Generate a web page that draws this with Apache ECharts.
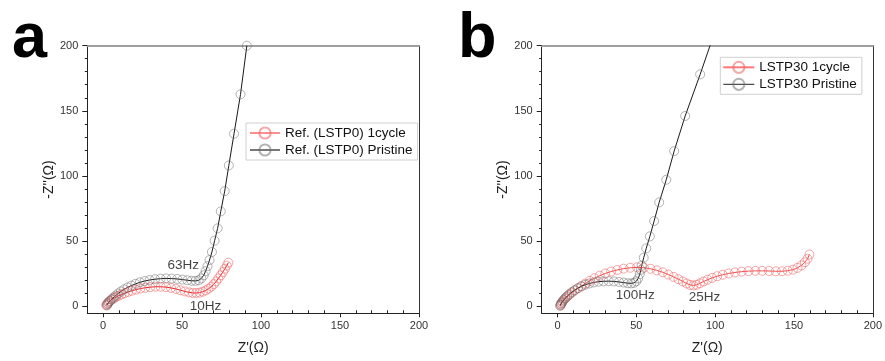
<!DOCTYPE html>
<html><head><meta charset="utf-8">
<script src="https://cdn.jsdelivr.net/npm/echarts@6/dist/echarts.min.js"></script>
<style>html,body{margin:0;padding:0;background:#fff}#c{width:885px;height:361px}</style>
</head><body><div id="c"></div>
<script>
// ---- data ----
const xTicks = [0, 50, 100, 150, 200];
const yTicks = [0, 50, 100, 150, 200];
const minorTicks = [10, 20, 30, 40, 60, 70, 80, 90, 110, 120, 130, 140, 160, 170, 180, 190];

const aNames = ['Ref. (LSTP0) 1cycle', 'Ref. (LSTP0) Pristine'];
const bNames = ['LSTP30 1cycle', 'LSTP30 Pristine'];

const aOneCycle = [[2.0,0.5],[2.3,1.3],[2.8,2.2],[3.5,3.1],[4.4,4.0],[5.5,4.9],[6.8,5.9],[8.2,6.9],[9.8,7.9],[11.6,8.8],[13.6,9.8],[15.8,10.8],[18.2,11.7],[20.8,12.6],[23.6,13.4],[26.6,14.0],[29.8,14.5],[33.1,14.8],[36.5,14.8],[39.8,14.5],[43.0,13.9],[46.1,13.1],[49.0,12.1],[51.8,11.2],[54.4,10.5],[56.8,10.1],[59.0,10.0],[61.1,10.3],[63.1,11.0],[65.0,12.0],[66.8,13.3],[68.5,14.9],[70.1,16.8],[71.6,18.9],[73.0,21.2],[74.4,23.6],[75.8,26.1],[77.1,28.6],[78.3,31.0],[79.3,33.3]];
const aPristine = [[2.5,0.5],[2.9,1.5],[3.5,2.6],[4.3,3.8],[5.3,5.1],[6.5,6.5],[7.9,8.0],[9.5,9.6],[11.3,11.2],[13.3,12.8],[15.5,14.3],[17.9,15.7],[20.5,17.0],[23.3,18.2],[26.3,19.2],[29.5,20.0],[32.9,20.6],[36.4,21.0],[39.9,21.2],[43.4,21.1],[46.9,20.8],[50.2,20.3],[53.3,19.8],[56.1,19.4],[58.5,19.3],[60.5,19.8],[62.2,21.2],[63.7,23.6],[64.9,26.8],[66.1,30.6],[67.4,35.3],[68.9,41.5],[70.6,50.2],[72.5,59.7],[74.5,72.7],[77.0,88.3],[79.6,108.0],[82.9,132.4],[87.0,162.6],[91.0,200.0]];
const bOneCycle = [[1.8,0.2],[2.0,1.0],[2.4,2.0],[3.0,3.1],[3.8,4.3],[4.8,5.6],[6.0,7.0],[7.4,8.5],[9.0,10.1],[10.8,11.8],[12.8,13.5],[15.0,15.2],[17.6,17.2],[20.4,19.3],[23.5,21.4],[26.8,23.3],[30.3,25.0],[34.0,26.5],[37.9,27.7],[42.0,28.7],[46.2,29.4],[50.5,29.7],[54.8,29.4],[59.0,28.6],[63.0,27.4],[66.8,25.9],[70.3,24.2],[73.6,22.4],[76.7,20.6],[79.5,18.9],[82.0,17.3],[84.2,16.2],[86.2,15.8],[88.2,16.3],[90.3,17.4],[92.6,18.8],[95.2,20.2],[98.1,21.6],[101.3,22.9],[104.8,24.0],[108.6,25.0],[112.6,25.8],[116.8,26.4],[121.1,26.8],[125.5,27.0],[129.9,27.0],[134.2,26.9],[138.4,26.7],[142.4,26.7],[146.0,27.1],[149.3,27.9],[152.2,29.3],[154.7,31.2],[156.9,33.6],[158.6,36.3],[159.8,39.6]];
const bPristine = [[1.8,0.3],[2.1,1.2],[2.6,2.3],[3.2,3.5],[4.0,4.8],[5.0,6.2],[6.2,7.7],[7.6,9.2],[9.2,10.8],[11.0,12.3],[13.0,13.8],[15.2,15.1],[17.6,16.3],[20.2,17.3],[23.0,18.1],[26.0,18.7],[29.2,19.0],[32.5,19.1],[35.8,18.9],[39.0,18.5],[42.0,18.0],[44.6,17.5],[46.8,17.4],[48.6,17.8],[50.0,19.0],[51.2,21.2],[52.2,24.5],[52.9,27.8],[53.4,31.0],[54.7,37.1],[56.3,44.3],[58.6,53.5],[61.3,65.3],[64.5,79.6],[69.0,97.0],[74.0,119.0],[81.0,146.0],[90.5,178.0],[101.0,215.0]];

const aNotes = [{name:'63Hz', value:[50.7,31.5]}, {name:'10Hz', value:[64.9,-0.5]}];
const bNotes = [{name:'100Hz', value:[49.4,7.9]}, {name:'25Hz', value:[93.2,6.4]}];

// ---- chart ----
const FF = 'Liberation Sans, Arial, sans-serif';
const X_MIN = -10, X_MAX = 200, Y_MIN = -5.6, Y_MAX = 200;

function xAxes(gi) {
  return [
    {gridIndex: gi, type: 'value', min: X_MIN, max: X_MAX, position: 'bottom',
     name: "Z'(\u03A9)", nameLocation: 'middle', nameGap: 28,
     nameTextStyle: {fontSize: 14, color: '#222', fontFamily: FF},
     axisLine: {show: true, onZero: false, lineStyle: {color: '#222', width: 1}},
     axisTick: {show: true, customValues: xTicks, length: 4, lineStyle: {color: '#222'}},
     axisLabel: {customValues: xTicks, margin: 7, fontSize: 11, color: '#333', fontFamily: FF},
     splitLine: {show: false}},
    {gridIndex: gi, type: 'value', min: X_MIN, max: X_MAX, position: 'bottom',
     axisLine: {show: false, onZero: false},
     axisTick: {show: true, inside: true, customValues: minorTicks, length: 3, lineStyle: {color: '#222'}},
     axisLabel: {show: false}, splitLine: {show: false}},
    {gridIndex: gi, type: 'value', min: X_MIN, max: X_MAX, position: 'top',
     axisLine: {show: true, onZero: false, lineStyle: {color: '#a0a0a0', width: 2}},
     axisTick: {show: false}, axisLabel: {show: false}, splitLine: {show: false}}
  ];
}
function yAxes(gi) {
  return [
    {gridIndex: gi, type: 'value', min: Y_MIN, max: Y_MAX, position: 'left',
     name: "-Z''(\u03A9)", nameLocation: 'middle', nameGap: 30,
     nameTextStyle: {fontSize: 14, color: '#222', fontFamily: FF},
     axisLine: {show: true, onZero: false, lineStyle: {color: '#222', width: 1}},
     axisTick: {show: true, customValues: yTicks, length: 5, lineStyle: {color: '#222'}},
     axisLabel: {customValues: yTicks, margin: 9, fontSize: 11, color: '#333', fontFamily: FF},
     splitLine: {show: false}},
    {gridIndex: gi, type: 'value', min: Y_MIN, max: Y_MAX, position: 'left',
     axisLine: {show: false, onZero: false},
     axisTick: {show: true, customValues: minorTicks, length: 2.5, lineStyle: {color: '#222'}},
     axisLabel: {show: false}, splitLine: {show: false}},
    {gridIndex: gi, type: 'value', min: Y_MIN, max: Y_MAX, position: 'right',
     axisLine: {show: true, onZero: false, lineStyle: {color: '#333', width: 1}},
     axisTick: {show: false}, axisLabel: {show: false}, splitLine: {show: false}}
  ];
}
function lineSeries(name, data, axisIdx, lineColor, circleColor) {
  return {
    name: name, type: 'line', data: data, xAxisIndex: axisIdx, yAxisIndex: axisIdx,
    symbol: 'circle', symbolSize: 9, showAllSymbol: true, clip: true,
    itemStyle: {color: 'rgba(255,255,255,0)', borderColor: circleColor, borderWidth: 1},
    lineStyle: {color: lineColor, width: 1},
    emphasis: {disabled: true}
  };
}
function noteSeries(notes, axisIdx) {
  return {
    type: 'scatter', data: notes, xAxisIndex: axisIdx, yAxisIndex: axisIdx,
    symbolSize: 1, itemStyle: {color: 'rgba(0,0,0,0)'}, silent: true, clip: false,
    label: {show: true, position: 'inside', formatter: '{b}', fontSize: 13.5, color: '#111', fontFamily: FF},
    z: 5
  };
}

const redA = 'rgba(238,95,95,0.55)', grayC = 'rgba(105,105,105,0.5)';

const option = {
  animation: false,
  backgroundColor: '#fff',
  title: [
    {text: 'a', left: 7, top: 3, textStyle: {fontSize: 63, fontWeight: 'bold', color: '#000', fontFamily: FF}},
    {text: 'b', left: 453, top: 3, textStyle: {fontSize: 63, fontWeight: 'bold', color: '#000', fontFamily: FF}}
  ],
  grid: [
    {left: 87.3, top: 45.7, width: 331.7, height: 267.6},
    {left: 541.7, top: 45.7, width: 331.6, height: 267.6}
  ],
  xAxis: xAxes(0).concat(xAxes(1)),
  yAxis: yAxes(0).concat(yAxes(1)),
  legend: [
    {left: 246, top: 123, orient: 'vertical', itemWidth: 30, itemHeight: 14, itemGap: 3,
     padding: [3, 5, 3, 3], borderColor: '#d0d0d0', borderWidth: 1, backgroundColor: '#fff',
     textStyle: {fontSize: 13.5, color: '#111', fontFamily: FF},
     data: [
       {name: aNames[0], lineStyle: {color: '#ff2020', width: 1}},
       {name: aNames[1], lineStyle: {color: '#777', width: 2}}
     ]},
    {left: 720.3, top: 57.3, orient: 'vertical', itemWidth: 31, itemHeight: 14, itemGap: 3,
     padding: [3, 5, 3, 2], borderColor: '#d0d0d0', borderWidth: 1, backgroundColor: '#fff',
     textStyle: {fontSize: 13.5, color: '#111', fontFamily: FF},
     data: [
       {name: bNames[0], lineStyle: {color: '#f77', width: 2}},
       {name: bNames[1], lineStyle: {color: '#222', width: 1}}
     ]}
  ],
  series: [
    lineSeries(aNames[0], aOneCycle, 0, '#e8202a', redA),
    lineSeries(aNames[1], aPristine, 0, '#1a1a1a', grayC),
    noteSeries(aNotes, 0),
    lineSeries(bNames[0], bOneCycle, 3, '#f05050', redA),
    lineSeries(bNames[1], bPristine, 3, '#1a1a1a', grayC),
    noteSeries(bNotes, 3)
  ]
};
const chart = echarts.init(document.getElementById('c'), null, {renderer: 'canvas'});
chart.setOption(option);
</script>
</body></html>
